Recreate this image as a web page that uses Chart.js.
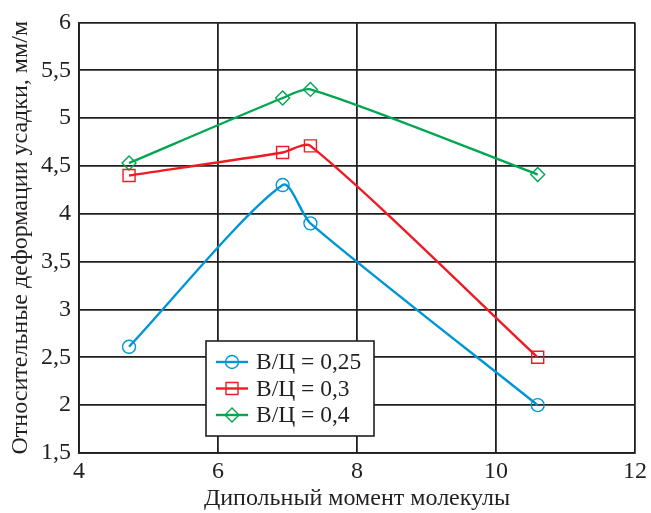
<!DOCTYPE html>
<html><head><meta charset="utf-8">
<script src="https://cdn.jsdelivr.net/npm/chart.js@4/dist/chart.umd.min.js"></script>
<style>html,body{margin:0;padding:0;background:#fff}#wrap{width:651px;height:513px}</style>
</head><body><div id="wrap"><canvas id="c" width="651" height="513"></canvas></div>
<script>
const xValues = [4.72, 6.93, 7.33, 10.6];
const seriesLabels = ['В/Ц = 0,25', 'В/Ц = 0,3', 'В/Ц = 0,4'];
const wc025 = [2.61, 4.30, 3.90, 2.00];
const wc03 = [4.40, 4.64, 4.71, 2.50];
const wc04 = [4.53, 5.21, 5.30, 4.41];
const xTicks = [4, 6, 8, 10, 12];
const yTicks = [1.5, 2, 2.5, 3, 3.5, 4, 4.5, 5, 5.5, 6];
const xTitle = 'Дипольный момент молекулы';
const yTitle = 'Относительные деформации усадки, мм/м';

const FONT = '"Liberation Serif", "Times New Roman", serif';
const GRID = '#231f20';
const colors = ['#0096d6', '#ed1c24', '#00a651'];
const styles = ['circle', 'rect', 'rectRot'];
const radii = [6.5, 8.5, 7];
const seriesValues = [wc025, wc03, wc04];

function pts(vals) { return xValues.map((x, i) => ({x: x, y: vals[i]})); }

const datasets = seriesValues.map((vals, i) => ({
  label: seriesLabels[i],
  data: pts(vals),
  borderColor: colors[i],
  backgroundColor: 'transparent',
  borderWidth: 2.4,
  tension: 0.25,
  pointStyle: styles[i],
  pointRadius: radii[i],
  pointBorderWidth: 1.4,
  pointBorderColor: colors[i],
  pointBackgroundColor: 'transparent'
}));

const boxLegend = {
  id: 'boxLegend',
  afterDraw(chart) {
    const ctx = chart.ctx;
    const L = 206, T = 341, W = 168, H = 95;
    ctx.save();
    ctx.fillStyle = '#fff';
    ctx.fillRect(L, T, W, H);
    ctx.strokeStyle = GRID; ctx.lineWidth = 1.6;
    ctx.strokeRect(L, T, W, H);
    ctx.font = '23.5px ' + FONT;
    ctx.textBaseline = 'middle';
    ctx.textAlign = 'left';
    chart.data.datasets.forEach((ds, i) => {
      const y = 362 + i * 26.5;
      ctx.strokeStyle = ds.borderColor;
      const cx = 232, r = ds.pointRadius;
      ctx.beginPath();
      if (ds.pointStyle === 'circle') ctx.arc(cx, y, r, 0, Math.PI * 2);
      else if (ds.pointStyle === 'rect') { const s = r * Math.SQRT1_2; ctx.rect(cx - s, y - s, 2 * s, 2 * s); }
      else { ctx.moveTo(cx - r, y); ctx.lineTo(cx, y - r); ctx.lineTo(cx + r, y); ctx.lineTo(cx, y + r); ctx.closePath(); }
      ctx.lineWidth = 1.4;
      ctx.stroke();
      ctx.beginPath(); ctx.moveTo(216, y); ctx.lineTo(248, y); ctx.lineWidth = 2.4; ctx.stroke();
      ctx.fillStyle = '#231f20';
      ctx.fillText(ds.label, 256, y + 1);
    });
    ctx.restore();
  }
};

new Chart(document.getElementById('c'), {
  type: 'line',
  data: { datasets },
  options: {
    responsive: false,
    devicePixelRatio: 1,
    animation: false,
    layout: { padding: { top: 19, right: 14, left: 0, bottom: 0 } },
    plugins: { legend: { display: false }, tooltip: { enabled: false } },
    scales: {
      x: {
        type: 'linear', min: 4, max: 12,
        afterBuildTicks: s => { s.ticks = xTicks.map(v => ({value: v})); },
        afterFit: s => { s.height = 60; },
        ticks: { color: '#231f20', font: { family: FONT, size: 24 }, padding: 4,
                 callback: v => String(v) },
        grid: { color: GRID, lineWidth: 1.8, drawTicks: false },
        border: { color: GRID, width: 1.8 },
        title: { display: true, text: xTitle, color: '#231f20', font: { family: FONT, size: 24 }, padding: { top: 0, bottom: 0 } }
      },
      y: {
        type: 'linear', min: 1.5, max: 6,
        afterBuildTicks: s => { s.ticks = yTicks.map(v => ({value: v})); },
        afterFit: s => { s.width = 79; },
        ticks: { color: '#231f20', font: { family: FONT, size: 24 }, padding: 8,
                 callback: v => String(v).replace('.', ',') },
        grid: { color: GRID, lineWidth: 1.8, drawTicks: false },
        border: { color: GRID, width: 1.8 },
        title: { display: true, text: yTitle, color: '#231f20', font: { family: FONT, size: 24 }, padding: { top: 6, bottom: 0 } }
      }
    }
  },
  plugins: [boxLegend]
});
</script>
</body></html>
